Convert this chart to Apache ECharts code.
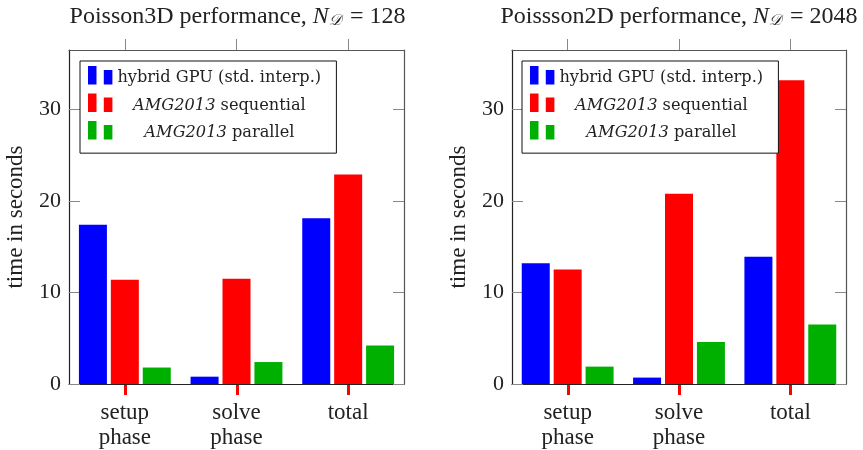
<!DOCTYPE html>
<html>
<head>
<meta charset="utf-8">
<script src="https://cdn.jsdelivr.net/npm/echarts@6/dist/echarts.min.js"></script>
<style>
  html, body { margin: 0; padding: 0; background: #fff; }
  #chart { width: 863px; height: 450px; }
</style>
</head>
<body>
<div id="chart"></div>
<script>
// Timing data (seconds) for the two benchmark problems
const categories = ['setup\nphase', 'solve\nphase', 'total'];
const seriesNames = ['hybrid GPU (std. interp.)', 'AMG2013 sequential', 'AMG2013 parallel'];
const yTicks = [0, 10, 20, 30];
// category centres on a continuous 0..3 scale, used for the frame tick marks
const categoryTickPos = [0.5, 1.5, 2.5];

const poisson3dGpu = [17.4, 0.8, 18.1];
const poisson3dSeq = [11.4, 11.5, 22.9];
const poisson3dPar = [1.8, 2.4, 4.2];

const poisson2dGpu = [13.2, 0.7, 13.9];
const poisson2dSeq = [12.5, 20.8, 33.2];
const poisson2dPar = [1.9, 4.6, 6.5];

const colors = ['#0000ff', '#ff0000', '#00b000'];
const serif = '"Liberation Serif", "DejaVu Serif", serif';
const legendFont = '"DejaVu Serif", serif';
const Y_MAX = 36.5;
const TICK_LEN = 11;

const panelRects = [
  { left: 69, top: 50, width: 335, bottom: 66 },
  { left: 512, top: 50, width: 334, bottom: 66 }
];
const grids = panelRects.concat(panelRects.map(r => Object.assign({}, r)));

const tickStyle = { color: '#888', width: 1 };

function categoryAxis(gridIndex) {
  return {
    type: 'category', gridIndex, position: 'bottom', data: categories,
    boundaryGap: true,
    axisLine: { show: true, lineStyle: { color: '#222', width: 1.2 } },
    axisTick: { show: false },
    axisLabel: { show: true, interval: 0, color: '#222', fontFamily: serif, fontSize: 23, lineHeight: 25, margin: 16 }
  };
}
function tickFrameAxis(gridIndex) {
  return {
    type: 'value', gridIndex, position: 'top', min: 0, max: 3, z: 10,
    splitLine: { show: false },
    axisLine: { show: true, onZero: false, lineStyle: { color: '#555', width: 1.2 } },
    axisTick: { show: true, length: TICK_LEN, customValues: categoryTickPos, lineStyle: tickStyle },
    axisLabel: { show: false }
  };
}
function leftAxis(gridIndex) {
  return {
    type: 'value', gridIndex, position: 'left', min: 0, max: Y_MAX, interval: 10,
    name: 'time in seconds', nameLocation: 'middle', nameGap: 42, nameRotate: 90,
    nameTextStyle: { color: '#222', fontFamily: serif, fontSize: 23 },
    splitLine: { show: false },
    axisLine: { show: true, lineStyle: { color: '#222', width: 1.2 } },
    axisTick: { show: true, inside: true, length: TICK_LEN, lineStyle: tickStyle },
    axisLabel: {
      color: '#222', fontFamily: serif, fontSize: 22, margin: 8,
      formatter: v => (yTicks.indexOf(v) >= 0 ? String(v) : '')
    }
  };
}
function rightAxis(gridIndex) {
  return {
    type: 'value', gridIndex, position: 'right', min: 0, max: Y_MAX, interval: 10,
    splitLine: { show: false },
    axisLine: { show: true, lineStyle: { color: '#555', width: 1.2 } },
    axisTick: { show: true, inside: true, length: TICK_LEN, lineStyle: tickStyle },
    axisLabel: { show: false }
  };
}
function hiddenYAxis(gridIndex) {
  return { type: 'value', gridIndex, min: 0, max: 1, show: false };
}

function legendAt(left) {
  return {
    left, top: 61, orient: 'vertical',
    data: seriesNames,
    icon: 'path://M0,0h8.5v18.5h-8.5z M15.8,4h8.6v14.5h-8.6z',
    itemWidth: 24.4, itemHeight: 18.5, itemGap: 7.2,
    padding: [5, 15, 12, 8],
    borderColor: '#111', borderWidth: 1, borderRadius: 0,
    backgroundColor: '#fff',
    selectedMode: false,
    formatter: name => name.indexOf('AMG2013') === 0
      ? '{i|AMG2013}' + name.slice(7)
      : name,
    textStyle: {
      color: '#222', fontFamily: legendFont, fontSize: 16.2,
      width: 204, align: 'center', lineHeight: 12, padding: [6, 0, 0, 0],
      rich: {
        i: { fontStyle: 'italic', fontFamily: legendFont, fontSize: 16.2, color: '#222', align: 'center', lineHeight: 12 }
      }
    }
  };
}

function barSeries(name, data, idx, gridIdx) {
  return {
    type: 'bar', name, data,
    xAxisIndex: gridIdx, yAxisIndex: gridIdx * 2,
    barWidth: 28, barGap: '14%',
    itemStyle: { color: colors[idx], borderWidth: 0 },
    emphasis: { disabled: true }
  };
}

// Outward tick marks below each category, drawn through the grid's own scales
function bottomTickSeries(gridIdx) {
  return {
    type: 'custom', name: 'bottom ticks',
    xAxisIndex: gridIdx, yAxisIndex: gridIdx * 2,
    data: categories.map((c, i) => [i, 0]),
    clip: false, silent: true, z: 20,
    renderItem: (params, api) => {
      const p = api.coord([api.value(0), 0]);
      const x = Math.round(p[0]) + 0.5;
      return {
        type: 'line',
        shape: { x1: x, y1: p[1] + 1, x2: x, y2: p[1] + TICK_LEN },
        style: { stroke: 'red', lineWidth: 3 }
      };
    }
  };
}

const titleRich = {
  t: { fontFamily: serif, fontSize: 24, fontWeight: 'normal', color: '#222' },
  it: { fontFamily: serif, fontSize: 24, fontWeight: 'normal', fontStyle: 'italic', color: '#222' },
  sub: { fontFamily: serif, fontSize: 15.5, fontWeight: 'normal', fontStyle: 'italic', color: '#222', verticalAlign: 'bottom', padding: [8, 3, 0, 0] }
};

const chart = echarts.init(document.getElementById('chart'), null, { renderer: 'canvas' });
chart.setOption({
  animation: false,
  backgroundColor: '#fff',
  title: [
    {
      text: '{t|Poisson3D performance, }{it|N}{sub|𝒟}{t| = 128}',
      left: 232.5, top: 0, textAlign: 'center',
      textStyle: { rich: titleRich, fontSize: 24, fontWeight: 'normal', fontFamily: serif }
    },
    {
      text: '{t|Poissson2D performance, }{it|N}{sub|𝒟}{t| = 2048}',
      left: 674, top: 0, textAlign: 'center',
      textStyle: { rich: titleRich, fontSize: 24, fontWeight: 'normal', fontFamily: serif }
    }
  ],
  legend: [legendAt(80), legendAt(522)],
  grid: grids,
  xAxis: [categoryAxis(0), categoryAxis(1), tickFrameAxis(2), tickFrameAxis(3)],
  yAxis: [
    leftAxis(0), rightAxis(0), leftAxis(1), rightAxis(1),
    hiddenYAxis(2), hiddenYAxis(3)
  ],
  series: [
    barSeries(seriesNames[0], poisson3dGpu, 0, 0),
    barSeries(seriesNames[1], poisson3dSeq, 1, 0),
    barSeries(seriesNames[2], poisson3dPar, 2, 0),
    barSeries(seriesNames[0], poisson2dGpu, 0, 1),
    barSeries(seriesNames[1], poisson2dSeq, 1, 1),
    barSeries(seriesNames[2], poisson2dPar, 2, 1),
    bottomTickSeries(0),
    bottomTickSeries(1)
  ]
});
</script>
</body>
</html>
